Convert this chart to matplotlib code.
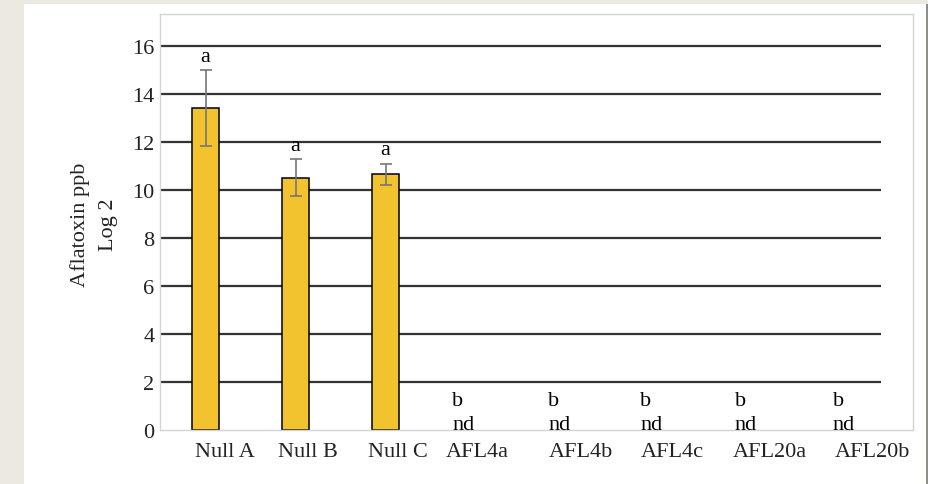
import matplotlib.pyplot as plt
import numpy as np
from matplotlib.patches import Rectangle

# Aflatoxin levels (log2 ppb) per line
LINES = ["Null A", "Null B", "Null C", "AFL4a", "AFL4b", "AFL4c", "AFL20a", "AFL20b"]
MEANS = [13.4, 10.5, 10.65, 0, 0, 0, 0, 0]
ERRORS = [1.58, 0.77, 0.45, 0, 0, 0, 0, 0]
DETECTED = [True, True, True, False, False, False, False, False]
GROUPS = ["a", "a", "a", "b", "b", "b", "b", "b"]

# Small shifts so the hand-placed category labels sit where they did in the figure
LABEL_SHIFT = [0.22, 0.14, 0.14, 0.02, 0.17, 0.19, 0.27, 0.41]
NOTE_SHIFT = [0, 0, 0, -0.26, -0.19, -0.17, -0.12, -0.03]

COLORS = {
    "BAR": "#F2C32E",
    "GRID": "#333333",
    "FRAME": "#d4d4d4",
    "ERR": "#777777",
    "PAGE": "#ECE9E0",
    "SHADOW": "#8e8e88",
}


def main():
    plt.rcParams["font.family"] = ["Liberation Serif", "DejaVu Serif"]
    plt.rcParams["font.size"] = 16

    fig = plt.figure(figsize=(9.29, 4.85), dpi=100)
    fig.patch.set_facecolor(COLORS["PAGE"])

    # White card with a thin shadow on its right edge
    fig.patches.append(Rectangle((24 / 929, 0), 902 / 929, 480 / 485, transform=fig.transFigure,
                                 facecolor="white", edgecolor="none", zorder=-2))
    fig.patches.append(Rectangle((926 / 929, 0), 3 / 929, 480 / 485, transform=fig.transFigure,
                                 facecolor=COLORS["SHADOW"], edgecolor="none", zorder=-2))

    ax = fig.add_axes([160 / 929, 54 / 485, 753 / 929, 416 / 485])
    ax.set_zorder(1)
    ax.set_facecolor("white")

    x = np.arange(len(LINES))
    ax.set_xlim(-0.5056, 7.86)
    ax.set_ylim(0, 17.33)

    # Horizontal rules at each y tick
    yticks = np.arange(0, 17, 2)
    ax.hlines(yticks[1:], -0.5056, 7.5, colors=COLORS["GRID"], linewidth=1.6, zorder=1)

    det = np.array(DETECTED)
    means = np.array(MEANS)
    errs = np.array(ERRORS)
    ax.bar(x[det], means[det], width=0.31, color=COLORS["BAR"], edgecolor="black",
           linewidth=1.1, zorder=2)
    ax.errorbar(x[det], means[det], yerr=errs[det], fmt="none", ecolor=COLORS["ERR"],
                elinewidth=1.2, capsize=4, capthick=1.2, zorder=3)

    # Group letters above bars, "nd" where nothing was detected
    for i in range(len(LINES)):
        if DETECTED[i]:
            ax.text(x[i], means[i] + errs[i] + 0.4, GROUPS[i], ha="center", va="baseline", zorder=4)
        else:
            ax.text(x[i] + NOTE_SHIFT[i], 1.05, GROUPS[i], ha="left", va="baseline", zorder=4)
            ax.text(x[i] + NOTE_SHIFT[i], 0.05, "nd", ha="left", va="baseline", zorder=4)

    ax.set_yticks(yticks)
    ax.set_xticks(x + np.array(LABEL_SHIFT), labels=LINES)
    ax.tick_params(axis="both", length=0, colors="#222222")
    ax.tick_params(axis="y", pad=4)
    ax.tick_params(axis="x", pad=9)

    for side in ["left", "right", "top", "bottom"]:
        ax.spines[side].set_color(COLORS["FRAME"])
        ax.spines[side].set_linewidth(1.0)

    fig.text(94 / 929, (485 - 225) / 485, "Aflatoxin ppb\nLog 2", rotation=90,
             ha="center", va="center", multialignment="center", linespacing=1.6,
             color="#222222")

    fig.savefig("out.png", dpi=100, facecolor=fig.get_facecolor())


if __name__ == '__main__':
    main()
